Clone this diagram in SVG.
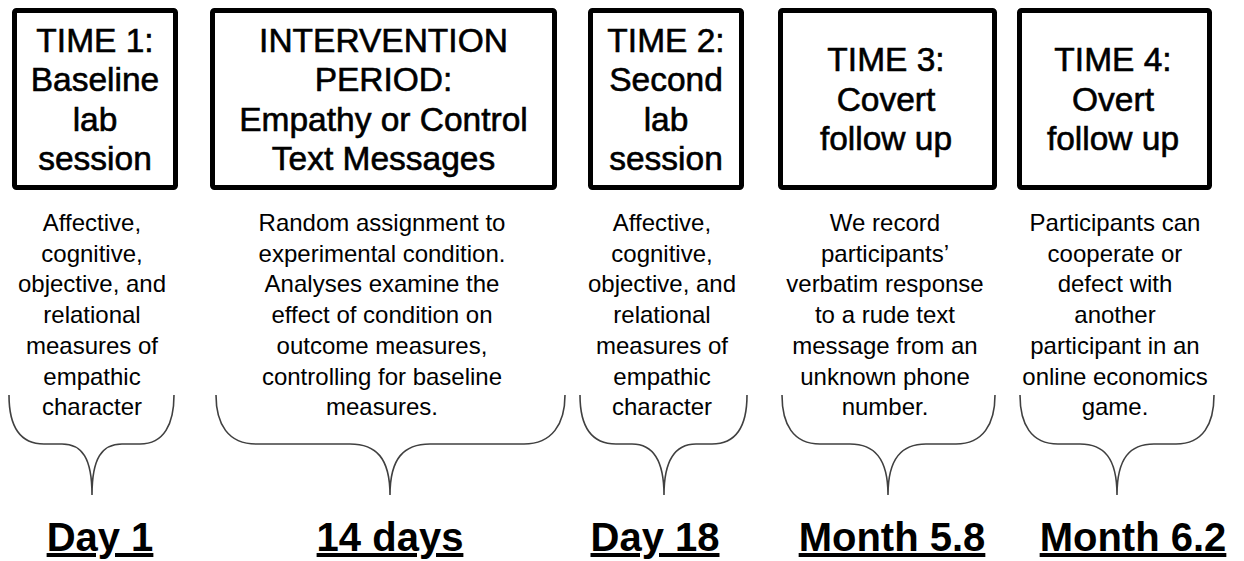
<svg xmlns="http://www.w3.org/2000/svg" width="1244" height="561" viewBox="0 0 1244 561">
  <style>
    .box { fill: #ffffff; stroke: #000000; stroke-width: 5; }
    .title { font-family: "Liberation Sans", Arial, sans-serif; font-size: 33.5px; fill: #000000; stroke: #000000; stroke-width: 0.6; text-anchor: middle; }
    .body { font-family: "Liberation Sans", Arial, sans-serif; font-size: 24px; fill: #000000; text-anchor: middle; }
    .when { font-family: "Liberation Sans", Arial, sans-serif; font-size: 40px; font-weight: bold; fill: #000000; text-anchor: middle; text-decoration: underline; }
    .brace { fill: none; stroke: #404040; stroke-width: 1.6; }
  </style>
  <rect width="1244" height="561" fill="#ffffff"/>

  <!-- Time 1 -->
  <g id="time1">
    <rect class="box" x="14.5" y="10.5" width="161" height="177" rx="2"/>
    <text class="title"><tspan x="95" y="51.5">TIME 1:</tspan><tspan x="95" y="91">Baseline</tspan><tspan x="95" y="130.5">lab</tspan><tspan x="95" y="170">session</tspan></text>
    <text class="body"><tspan x="92" y="231">Affective,</tspan><tspan x="92" y="261.7">cognitive,</tspan><tspan x="92" y="292.4">objective, and</tspan><tspan x="92" y="323.1">relational</tspan><tspan x="92" y="353.8">measures of</tspan><tspan x="92" y="384.5">empathic</tspan><tspan x="92" y="415.2">character</tspan></text>
    <text class="when" x="100" y="551">Day 1</text>
  </g>

  <!-- Intervention period -->
  <g id="intervention">
    <rect class="box" x="212.5" y="10.5" width="342" height="177" rx="2"/>
    <text class="title"><tspan x="383.5" y="51.5">INTERVENTION</tspan><tspan x="383.5" y="91">PERIOD:</tspan><tspan x="383.5" y="130.5">Empathy or Control</tspan><tspan x="383.5" y="170">Text Messages</tspan></text>
    <text class="body"><tspan x="382" y="231">Random assignment to</tspan><tspan x="382" y="261.7">experimental condition.</tspan><tspan x="382" y="292.4">Analyses examine the</tspan><tspan x="382" y="323.1">effect of condition on</tspan><tspan x="382" y="353.8">outcome measures,</tspan><tspan x="382" y="384.5">controlling for baseline</tspan><tspan x="382" y="415.2">measures.</tspan></text>
    <text class="when" x="390" y="551">14 days</text>
  </g>

  <!-- Time 2 -->
  <g id="time2">
    <rect class="box" x="590.5" y="10.5" width="151" height="177" rx="2"/>
    <text class="title"><tspan x="666" y="51.5">TIME 2:</tspan><tspan x="666" y="91">Second</tspan><tspan x="666" y="130.5">lab</tspan><tspan x="666" y="170">session</tspan></text>
    <text class="body"><tspan x="662" y="231">Affective,</tspan><tspan x="662" y="261.7">cognitive,</tspan><tspan x="662" y="292.4">objective, and</tspan><tspan x="662" y="323.1">relational</tspan><tspan x="662" y="353.8">measures of</tspan><tspan x="662" y="384.5">empathic</tspan><tspan x="662" y="415.2">character</tspan></text>
    <text class="when" x="655" y="551">Day 18</text>
  </g>

  <!-- Time 3 -->
  <g id="time3">
    <rect class="box" x="780.5" y="10.5" width="214" height="177" rx="2"/>
    <text class="title"><tspan x="886" y="71">TIME 3:</tspan><tspan x="886" y="110.5">Covert</tspan><tspan x="886" y="150">follow up</tspan></text>
    <text class="body"><tspan x="885" y="231">We record</tspan><tspan x="885" y="261.7">participants’</tspan><tspan x="885" y="292.4">verbatim response</tspan><tspan x="885" y="323.1">to a rude text</tspan><tspan x="885" y="353.8">message from an</tspan><tspan x="885" y="384.5">unknown phone</tspan><tspan x="885" y="415.2">number.</tspan></text>
    <text class="when" x="892" y="551">Month 5.8</text>
  </g>

  <!-- Time 4 -->
  <g id="time4">
    <rect class="box" x="1019.5" y="10.5" width="190" height="177" rx="2"/>
    <text class="title"><tspan x="1113" y="71">TIME 4:</tspan><tspan x="1113" y="110.5">Overt</tspan><tspan x="1113" y="150">follow up</tspan></text>
    <text class="body"><tspan x="1115" y="231">Participants can</tspan><tspan x="1115" y="261.7">cooperate or</tspan><tspan x="1115" y="292.4">defect with</tspan><tspan x="1115" y="323.1">another</tspan><tspan x="1115" y="353.8">participant in  an</tspan><tspan x="1115" y="384.5">online economics</tspan><tspan x="1115" y="415.2">game.</tspan></text>
    <text class="when" x="1133" y="551">Month 6.2</text>
  </g>

  <!-- Braces gathering each column onto its time point -->
  <g id="connectors">
    <path class="brace" d="M9,395 C9,424 18,444 44,444 L62,444 C82,444 92,458 92,495 C92,458 102,444 122,444 L140,444 C164,444 174,424 174,395"/>
    <path class="brace" d="M216,395 C216,424 228,444 256,444 L350,444 C376,444 390,458 390,495 C390,458 404,444 430,444 L524,444 C552,444 565,424 565,395"/>
    <path class="brace" d="M580,395 C580,424 590,444 616,444 L632,444 C652,444 664,458 664,495 C664,458 676,444 696,444 L712,444 C738,444 747,424 747,395"/>
    <path class="brace" d="M782,395 C782,424 793,444 820,444 L850,444 C874,444 888,458 888,495 C888,458 902,444 926,444 L956,444 C983,444 995,424 995,395"/>
    <path class="brace" d="M1020,395 C1020,424 1031,444 1058,444 L1080,444 C1104,444 1117,458 1117,495 C1117,458 1130,444 1154,444 L1176,444 C1203,444 1214,424 1214,395"/>
  </g>
</svg>
